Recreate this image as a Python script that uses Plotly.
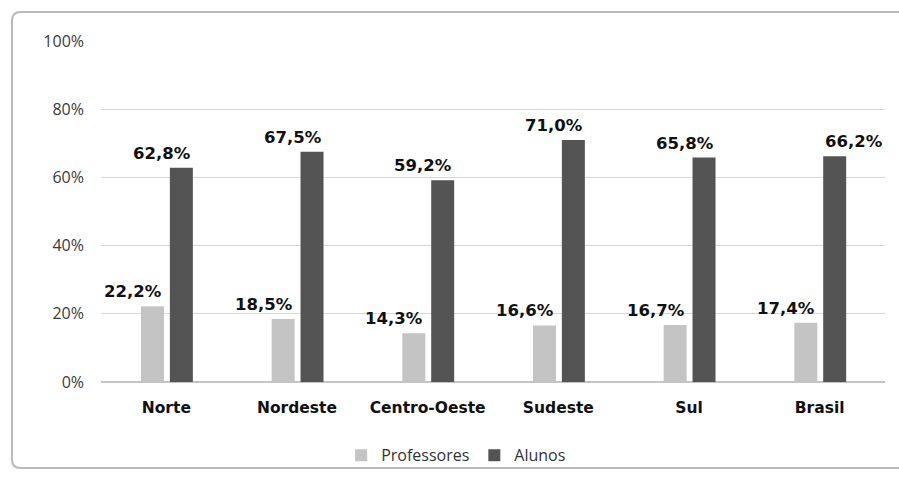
import plotly.graph_objects as go

# Regions and shares (%)
regioes = ["Norte", "Nordeste", "Centro-Oeste", "Sudeste", "Sul", "Brasil"]
professores = [22.2, 18.5, 14.3, 16.6, 16.7, 17.4]
alunos = [62.8, 67.5, 59.2, 71.0, 65.8, 66.2]
y_ticks = [0, 20, 40, 60, 80, 100]

COR_PROF = "#c4c4c4"
COR_ALUNO = "#545454"
BAR_W = 0.176
OFF_PROF = -0.194
OFF_ALUNO = 0.027


def fmt(v):
    return f"{v:.1f}".replace(".", ",") + "%"


fig = go.Figure()
fig.add_trace(go.Bar(
    name="Professores", x=regioes, y=professores,
    marker=dict(color=COR_PROF, line=dict(width=0)),
    width=BAR_W, offset=OFF_PROF,
))
fig.add_trace(go.Bar(
    name="Alunos", x=regioes, y=alunos,
    marker=dict(color=COR_ALUNO, line=dict(width=0)),
    width=BAR_W, offset=OFF_ALUNO,
))

# Value labels above each bar
label_font = dict(family="DejaVu Sans", size=16.5, color="#111111")
for i, (p, a) in enumerate(zip(professores, alunos)):
    fig.add_annotation(
        x=i + OFF_PROF + BAR_W, y=p, text=f"<b>{fmt(p)}</b>",
        xanchor="right", yanchor="bottom", yshift=3,
        showarrow=False, font=label_font,
    )
    last = i == len(regioes) - 1
    fig.add_annotation(
        x=i + OFF_ALUNO + (0 if last else BAR_W), y=a, text=f"<b>{fmt(a)}</b>",
        xanchor="left" if last else "right", yanchor="bottom", yshift=3,
        showarrow=False, font=label_font,
    )

# Rounded outer frame
x0, x1, y0, y1 = -0.1135, 1.03, -0.252, 1.085
rx, ry = 0.011, 0.025
frame = (
    f"M {x0 + rx},{y1} L {x1},{y1} "
    f"M {x0 + rx},{y1} Q {x0},{y1} {x0},{y1 - ry} "
    f"L {x0},{y0 + ry} Q {x0},{y0} {x0 + rx},{y0} L {x1},{y0}"
)
fig.add_shape(type="path", xref="paper", yref="paper", path=frame,
              line=dict(color="#b9b9b9", width=2), layer="below")

fig.update_layout(
    width=899, height=479,
    margin=dict(l=101, r=14, t=41, b=97, autoexpand=False),
    paper_bgcolor="white", plot_bgcolor="white",
    barmode="group",
    font=dict(family="Open Sans", size=16, color="#3a3a3a"),
    showlegend=True,
    legend=dict(
        orientation="h", x=0.453, xanchor="center", y=-0.215, yanchor="middle",
        font=dict(family="Open Sans", size=16, color="#333333"),
        bgcolor="rgba(0,0,0,0)",
        itemwidth=30, traceorder="normal",
    ),
    xaxis=dict(
        type="category", range=[-0.5, 5.5], showgrid=False, showline=False,
        tickfont=dict(family="DejaVu Sans", size=15.5, color="#111111"),
        ticks="", ticklabelstandoff=14, automargin=False,
        tickvals=regioes, ticktext=[f"<b>{r}</b>" for r in regioes],
    ),
    yaxis=dict(
        range=[0, 100], tickvals=y_ticks, ticktext=[f"{v}%" for v in y_ticks],
        showgrid=True, gridcolor="#d6d6d6", gridwidth=1,
        zeroline=True, zerolinecolor="#c4c4c4", zerolinewidth=2,
        showline=False, ticks="", ticklabelstandoff=16, automargin=False,
        tickfont=dict(family="Open Sans", size=16, color="#3a3a3a"),
    ),
)

fig.write_html("out.html")
